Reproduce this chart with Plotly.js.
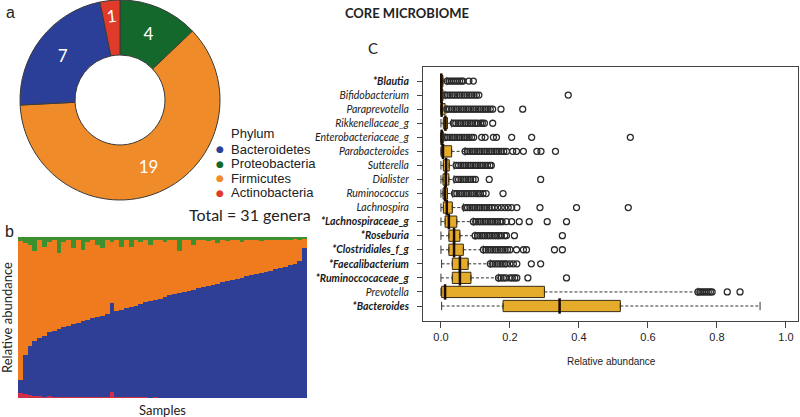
<!DOCTYPE html>
<html>
<head>
<meta charset="utf-8">
<script src="https://cdn.plot.ly/plotly-3.0.1.min.js"></script>
<style>
  html, body { margin: 0; padding: 0; background: #fff; }
  #chart { width: 800px; height: 417px; }
</style>
</head>
<body>
<div id="chart"></div>
<script>
// ---------- Panel a: genera per phylum (donut) ----------
const phyla = ['Proteobacteria', 'Firmicutes', 'Bacteroidetes', 'Actinobacteria'];
const generaCount = [4, 19, 7, 1];
const phylumColors = ['#14682c', '#ef8b28', '#2c3f98', '#e03a2a'];
const legendOrder = ['Bacteroidetes', 'Proteobacteria', 'Firmicutes', 'Actinobacteria'];
const totalLabel = 'Total = 31 genera';

// ---------- Panel b: relative abundance per sample ----------
const bacteroidetes = [0.08,0.24,0.30,0.34,0.36,0.38,0.40,0.41,0.42,0.435,0.445,0.455,0.46,0.47,0.48,0.49,0.495,0.505,0.515,0.55,
  0.535,0.545,0.555,0.56,0.57,0.58,0.59,0.60,0.605,0.615,0.625,0.635,0.64,0.648,0.655,0.663,0.67,0.678,0.685,0.692,
  0.70,0.707,0.715,0.722,0.73,0.737,0.745,0.752,0.76,0.766,0.773,0.78,0.788,0.797,0.805,0.813,0.822,0.832,0.845,0.93];
const proteobacteria = [0.025,0.035,0.05,0.09,0.02,0.06,0.03,0.02,0.10,0.03,0.02,0.07,0.02,0.08,0.03,0.02,0.05,0.07,0.02,0.03,
  0.02,0.06,0.02,0.06,0.02,0.03,0.02,0.05,0.02,0.02,0.03,0.02,0.02,0.09,0.02,0.02,0.05,0.02,0.02,0.025,
  0.02,0.035,0.02,0.025,0.02,0.018,0.03,0.018,0.02,0.018,0.025,0.018,0.018,0.02,0.018,0.018,0.018,0.015,0.018,0.01];
const actinobacteria = [0.03,0.025,0.02,0.015,0.01,0.008,0.012,0.006,0.006,0.008,0.005,0.006,0.005,0.006,0.005,0.005,0.006,0.005,0.005,0.04,
  0.005,0.004,0.005,0.004,0.004,0.004,0.004,0.003,0.004,0.003,0.003,0.003,0.003,0.003,0.003,0.003,0.003,0.003,0.003,0.003,
  0.003,0.003,0.003,0.003,0.003,0.003,0.003,0.003,0.003,0.003,0.003,0.003,0.003,0.003,0.003,0.003,0.003,0.003,0.003,0.003];
const firmicutes = [0.865,0.70,0.63,0.555,0.61,0.552,0.558,0.564,0.474,0.527,0.53,0.469,0.515,0.444,0.485,0.485,0.449,0.42,0.46,0.38,
  0.44,0.391,0.42,0.376,0.406,0.386,0.386,0.347,0.371,0.362,0.342,0.342,0.337,0.259,0.322,0.314,0.277,0.299,0.292,0.28,
  0.277,0.255,0.262,0.25,0.247,0.242,0.222,0.227,0.217,0.213,0.199,0.199,0.191,0.18,0.174,0.166,0.157,0.15,0.134,0.057];
const sampleColors = { Actinobacteria: '#cf2f48', Bacteroidetes: '#2e3f95', Firmicutes: '#f07b1f', Proteobacteria: '#3c9030' };

// ---------- Panel c: core microbiome boxplot ----------
const genera = ['*Bacteroides','Prevotella','*Ruminoccocaceae_g','*Faecalibacterium','*Clostridiales_f_g','*Roseburia',
  '*Lachnospiraceae_g','Lachnospira','Ruminococcus','Dialister','Sutterella','Parabacteroides','Enterobacteriaceae_g',
  'Rikkenellaceae_g','Paraprevotella','Bifidobacterium','*Blautia'];
const lowerWhisker = [0.002,0.0,0.0,0.002,0.0,0.0,0.0,0.0,0.0,0.0,0.0,0.0,0.0,0.0,0.0,0.0,0.0];
const q1 =           [0.18,0.002,0.033,0.033,0.023,0.023,0.012,0.007,0.006,0.006,0.007,0.001,0.0,0.007,0.0,0.0,0.0];
const median =       [0.344,0.012,0.055,0.055,0.038,0.038,0.023,0.017,0.012,0.014,0.015,0.006,0.002,0.013,0.002,0.001,0.001];
const q3 =           [0.52,0.30,0.087,0.079,0.065,0.055,0.046,0.033,0.019,0.023,0.024,0.031,0.007,0.019,0.012,0.006,0.006];
const upperWhisker = [0.925,0.745,0.167,0.143,0.123,0.099,0.094,0.065,0.034,0.038,0.038,0.07,0.012,0.031,0.017,0.012,0.017];
const outliers = [
  [],
  [0.745,0.751,0.757,0.763,0.769,0.775,0.781,0.786,0.83,0.867],
  [0.167,0.174,0.181,0.188,0.2,0.207,0.214,0.22,0.252,0.364],
  [0.143,0.150,0.157,0.164,0.171,0.178,0.185,0.19,0.2,0.21,0.22,0.262,0.289],
  [0.123,0.130,0.137,0.144,0.151,0.158,0.165,0.172,0.179,0.186,0.193,0.2,0.219,0.239,0.248,0.329,0.352],
  [0.099,0.106,0.113,0.120,0.127,0.134,0.141,0.148,0.155,0.162,0.168,0.175,0.185,0.19,0.213,0.352],
  [0.094,0.101,0.108,0.115,0.122,0.129,0.136,0.143,0.150,0.157,0.164,0.171,0.177,0.19,0.205,0.227,0.256,0.308,0.364],
  [0.070,0.077,0.084,0.091,0.098,0.105,0.112,0.119,0.126,0.133,0.140,0.147,0.155,0.165,0.175,0.185,0.195,0.205,0.22,0.287,0.393,0.543],
  [0.039,0.046,0.053,0.060,0.067,0.074,0.081,0.088,0.095,0.102,0.109,0.114,0.122,0.131,0.18],
  [0.044,0.051,0.058,0.065,0.072,0.079,0.086,0.093,0.100,0.14,0.289],
  [0.044,0.051,0.058,0.065,0.072,0.079,0.086,0.093,0.100,0.107,0.114,0.121,0.128,0.135,0.142,0.146],
  [0.070,0.077,0.084,0.091,0.098,0.105,0.112,0.119,0.126,0.133,0.140,0.147,0.154,0.161,0.168,0.175,0.182,0.19,0.208,0.219,0.239,0.278,0.29,0.332],
  [0.012,0.019,0.026,0.033,0.040,0.047,0.054,0.061,0.068,0.075,0.082,0.089,0.095,0.118,0.128,0.152,0.161,0.205,0.263,0.549],
  [0.036,0.043,0.050,0.057,0.064,0.071,0.078,0.085,0.092,0.099,0.106,0.115,0.12,0.126,0.15],
  [0.017,0.024,0.031,0.038,0.045,0.052,0.059,0.066,0.073,0.080,0.087,0.094,0.101,0.108,0.115,0.122,0.129,0.136,0.143,0.150,0.174,0.237],
  [0.012,0.019,0.026,0.033,0.040,0.047,0.054,0.061,0.068,0.075,0.082,0.089,0.096,0.103,0.110,0.369],
  [0.018,0.024,0.030,0.036,0.042,0.048,0.054,0.060,0.064,0.081,0.094]
];
const xTicks = [0, 0.2, 0.4, 0.6, 0.8, 1.0];
const xTickText = ['0.0', '0.2', '0.4', '0.6', '0.8', '1.0'];

// ---------- helpers ----------
const W = 800, H = 417;
const px = v => v / W;
const py = v => 1 - v / H;

const traces = [];

// donut (labels of large slices horizontal, the thin slice label tangential so it keeps full size)
const pieBase = {
  type: 'pie', labels: phyla, values: generaCount, sort: false, direction: 'clockwise', rotation: 0,
  hole: 0.45, textposition: 'inside',
  textfont: { color: '#ffffff', size: 17, family: 'Lato' },
  domain: { x: [px(20), px(220)], y: [py(200), py(0)] },
  showlegend: false
};
const smallest = Math.min(...generaCount);
traces.push(Object.assign({}, pieBase, {
  marker: { colors: phylumColors, line: { color: '#3a3a3a', width: 1 } },
  texttemplate: generaCount.map(v => v === smallest ? '' : '%{value}'),
  insidetextorientation: 'horizontal', hoverinfo: 'label+value'
}));
traces.push(Object.assign({}, pieBase, {
  marker: { colors: phyla.map(() => 'rgba(0,0,0,0)'), line: { width: 0 } },
  texttemplate: generaCount.map(v => v === smallest ? '%{value}' : ''),
  insidetextorientation: 'tangential', hoverinfo: 'skip'
}));

// stacked sample bars
const sampleIds = bacteroidetes.map((_, i) => i + 1);
const stackSeries = [
  ['Actinobacteria', actinobacteria],
  ['Bacteroidetes', bacteroidetes],
  ['Firmicutes', firmicutes],
  ['Proteobacteria', proteobacteria]
];
stackSeries.forEach(([name, vals]) => {
  traces.push({
    type: 'bar', x: sampleIds, y: vals, name: name, xaxis: 'x2', yaxis: 'y2',
    marker: { color: sampleColors[name], line: { width: 0 } }, showlegend: false
  });
});

// boxplot
const pos = genera.map((_, i) => i + 1);
traces.push({
  type: 'box', orientation: 'h', y: pos, q1: q1, median: median, q3: q3,
  lowerfence: q1, upperfence: q3, width: 0.8, boxpoints: false,
  fillcolor: '#e5ac2c', line: { color: '#3b2c12', width: 1 },
  xaxis: 'x3', yaxis: 'y3', showlegend: false, hoverinfo: 'skip'
});
// dashed whiskers
const wx = [], wy = [];
pos.forEach((p, i) => {
  wx.push(lowerWhisker[i], q1[i], null, q3[i], upperWhisker[i], null);
  wy.push(p, p, null, p, p, null);
});
traces.push({
  type: 'scatter', mode: 'lines', x: wx, y: wy, xaxis: 'x3', yaxis: 'y3',
  line: { color: '#333333', width: 1, dash: '3px,2px' }, showlegend: false, hoverinfo: 'skip'
});
// whisker staples
const sx = [], sy = [];
pos.forEach((p, i) => { sx.push(lowerWhisker[i], upperWhisker[i]); sy.push(p, p); });
traces.push({
  type: 'scatter', mode: 'markers', x: sx, y: sy, xaxis: 'x3', yaxis: 'y3',
  marker: { symbol: 'line-ns', size: 6, color: '#333', line: { color: '#333333', width: 1 } },
  showlegend: false, hoverinfo: 'skip'
});
// thick medians
traces.push({
  type: 'scatter', mode: 'markers', x: median, y: pos, xaxis: 'x3', yaxis: 'y3',
  marker: { symbol: 'line-ns', size: 11, color: '#1a0c00', line: { color: '#1a0c00', width: 2.5 } },
  showlegend: false, hoverinfo: 'skip'
});
// outliers
const ox = [], oy = [];
outliers.forEach((arr, i) => arr.forEach(v => { ox.push(v); oy.push(pos[i]); }));
traces.push({
  type: 'scatter', mode: 'markers', x: ox, y: oy, xaxis: 'x3', yaxis: 'y3',
  marker: { symbol: 'circle-open', size: 6, color: '#2a2a2a', line: { width: 1.3 } },
  showlegend: false, hoverinfo: 'x'
});

const tickText = genera.map(g => g.startsWith('*') ? '<b><i>' + g + '</i></b>' : '<i>' + g + '</i>');

// annotations
const ann = [];
ann.push({ text: 'a', x: px(4), y: py(12), xref: 'paper', yref: 'paper', xanchor: 'left', yanchor: 'middle', showarrow: false, font: { family: 'Liberation Sans', size: 16, color: '#222' } });
ann.push({ text: 'b', x: px(3), y: py(231), xref: 'paper', yref: 'paper', xanchor: 'left', yanchor: 'middle', showarrow: false, font: { family: 'Liberation Sans', size: 16, color: '#222' } });
ann.push({ text: 'C', x: px(373), y: py(48), xref: 'paper', yref: 'paper', xanchor: 'center', yanchor: 'middle', showarrow: false, font: { family: 'Lato', size: 15, color: '#222' } });
ann.push({ text: 'Phylum', x: px(229), y: py(133), xref: 'paper', yref: 'paper', xanchor: 'left', yanchor: 'middle', showarrow: false, font: { family: 'Liberation Sans', size: 13, color: '#222' } });
legendOrder.forEach((name, k) => {
  const yy = py(149 + k * 14.6);
  const c = phylumColors[phyla.indexOf(name)];
  ann.push({ text: '●', x: px(220), y: yy, xref: 'paper', yref: 'paper', xanchor: 'center', yanchor: 'middle', showarrow: false, font: { family: 'DejaVu Sans', size: 9, color: c } });
  ann.push({ text: name, x: px(229), y: yy, xref: 'paper', yref: 'paper', xanchor: 'left', yanchor: 'middle', showarrow: false, font: { family: 'Liberation Sans', size: 13, color: '#222' } });
});
ann.push({ text: totalLabel, x: px(187), y: py(214), xref: 'paper', yref: 'paper', xanchor: 'left', yanchor: 'middle', showarrow: false, font: { family: 'Lato', size: 16, color: '#222' } });
ann.push({ text: 'Relative abundance', x: px(7), y: py(318), xref: 'paper', yref: 'paper', xanchor: 'center', yanchor: 'middle', textangle: -90, showarrow: false, font: { family: 'Lato', size: 13, color: '#222' } });
ann.push({ text: 'Samples', x: px(162), y: py(410), xref: 'paper', yref: 'paper', xanchor: 'center', yanchor: 'middle', showarrow: false, font: { family: 'Lato', size: 13, color: '#222' } });
ann.push({ text: 'Relative abundance', x: px(611), y: py(361), xref: 'paper', yref: 'paper', xanchor: 'center', yanchor: 'middle', showarrow: false, font: { family: 'Liberation Sans', size: 10, color: '#222' } });

const layout = {
  width: W, height: H,
  margin: { l: 0, r: 0, t: 0, b: 0, pad: 0 },
  paper_bgcolor: '#ffffff', plot_bgcolor: 'rgba(0,0,0,0)',
  title: { text: '<b>CORE MICROBIOME</b>', x: px(407), y: py(13), xanchor: 'center', yanchor: 'middle', xref: 'paper', yref: 'paper',
           font: { family: 'Lato', size: 13, color: '#222' } },
  barmode: 'stack', barnorm: 'fraction', bargap: 0,
  showlegend: false,
  xaxis2: { domain: [px(18), px(307)], anchor: 'y2', range: [0.5, bacteroidetes.length + 0.5], visible: false, fixedrange: true },
  yaxis2: { domain: [py(398), py(237)], anchor: 'x2', range: [0, 1], visible: false, fixedrange: true },
  xaxis3: {
    domain: [px(423), px(798)], anchor: 'y3', range: [-0.052, 1.035],
    showline: true, mirror: true, linecolor: '#444', linewidth: 1,
    ticks: 'outside', ticklen: 6, tickcolor: '#444', tickwidth: 1,
    tickvals: xTicks, ticktext: xTickText, tickfont: { family: 'Liberation Sans', size: 11, color: '#222' },
    showgrid: false, zeroline: false
  },
  yaxis3: {
    domain: [py(321), py(67)], anchor: 'x3', range: [-0.067, 18.0],
    showline: true, mirror: true, linecolor: '#444', linewidth: 1,
    ticks: 'outside', ticklen: 5, tickcolor: '#444', tickwidth: 1, ticklabelstandoff: 6,
    tickvals: pos, ticktext: tickText, tickfont: { family: 'Lato', size: 10.5, color: '#1a1a1a' },
    showgrid: false, zeroline: false
  },
  annotations: ann
};

Plotly.newPlot('chart', traces, layout, { staticPlot: true, displayModeBar: false });
</script>
</body>
</html>
